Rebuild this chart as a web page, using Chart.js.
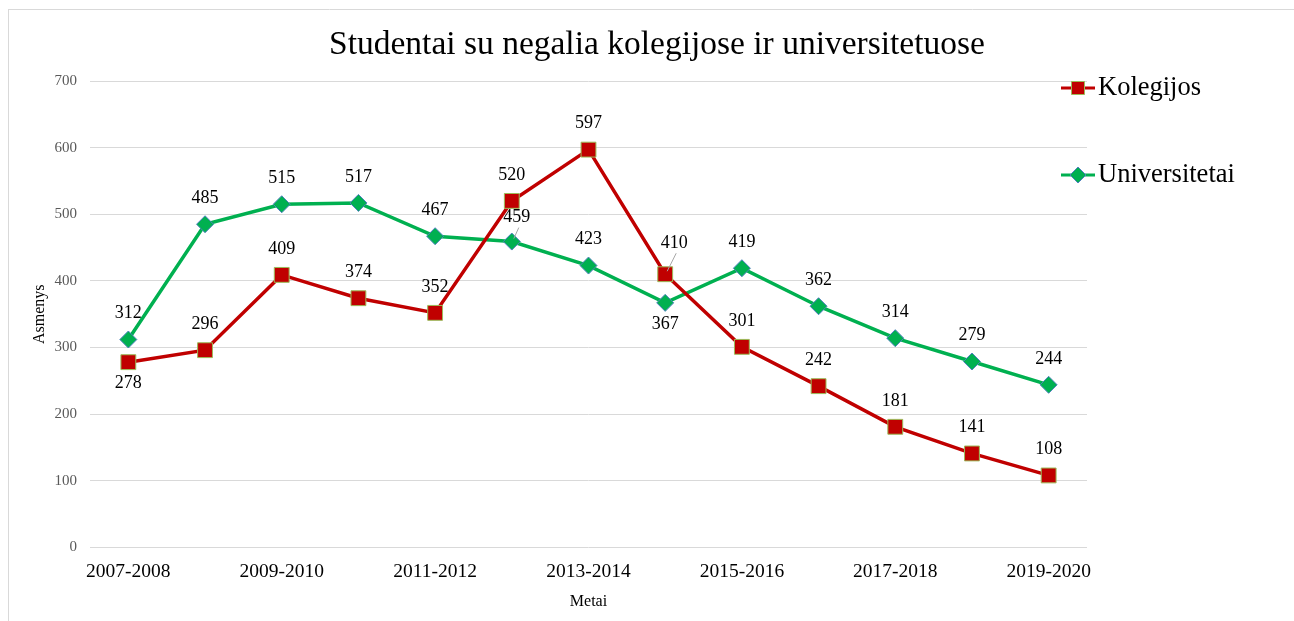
<!DOCTYPE html>
<html>
<head>
<meta charset="utf-8">
<script src="https://cdn.jsdelivr.net/npm/chart.js@4"></script>
<style>
html,body{margin:0;padding:0;background:#fff;}
canvas{display:block;}
</style>
</head>
<body>
<canvas id="c" width="1294" height="621"></canvas>
<script>
// ---- data ----
const categories = ["2007-2008","2008-2009","2009-2010","2010-2011","2011-2012","2012-2013","2013-2014","2014-2015","2015-2016","2016-2017","2017-2018","2018-2019","2019-2020"];
const kolegijos = [278,296,409,374,352,520,597,410,301,242,181,141,108];
const universitetai = [312,485,515,517,467,459,423,367,419,362,314,279,244];
const yTicks = [0,100,200,300,400,500,600,700];
const titleText = "Studentai su negalia kolegijose ir universitetuose";
const seriesNames = ["Kolegijos","Universitetai"];

// label placement (styles/positions kept separate from data)
const labelPlacement = [
  {0:'below', 7:{dx:9,dy:-31,leader:true}},
  {5:{dx:5,dy:-24,leader:true}, 7:'below'}
];

const SERIF = "'Liberation Serif','Times New Roman',serif";
const RED = '#C00000', GREEN = '#00B050';

const customPlugin = {
  id: 'custom',
  beforeDraw(chart){
    const ctx = chart.ctx;
    ctx.save();
    ctx.strokeStyle = '#d9d9d9';
    ctx.lineWidth = 1;
    ctx.beginPath();
    ctx.moveTo(8, 9.5); ctx.lineTo(1294, 9.5);
    ctx.moveTo(8.5, 9); ctx.lineTo(8.5, 621);
    ctx.stroke();
    ctx.restore();
  },
  afterDraw(chart){
    const ctx = chart.ctx;
    ctx.save();
    // title
    ctx.fillStyle = '#000';
    ctx.font = '33.5px ' + SERIF;
    ctx.textAlign = 'center';
    ctx.textBaseline = 'middle';
    ctx.fillText(titleText, 657, 45);

    // data labels
    ctx.font = '18px ' + SERIF;
    chart.data.datasets.forEach((ds, di) => {
      const meta = chart.getDatasetMeta(di);
      meta.data.forEach((pt, i) => {
        const pl = labelPlacement[di][i];
        let x = pt.x, y = pt.y - 26;
        if (pl === 'below') y = pt.y + 21;
        else if (pl && typeof pl === 'object') {
          x = pt.x + pl.dx; y = pt.y + pl.dy;
          if (pl.leader) {
            ctx.strokeStyle = '#a6a6a6';
            ctx.lineWidth = 1;
            ctx.beginPath();
            ctx.moveTo(pt.x + 2, pt.y - 3);
            ctx.lineTo(x + 2, y + 10);
            ctx.stroke();
          }
        }
        ctx.fillStyle = '#000';
        ctx.fillText(String(ds.data[i]), x, y);
      });
    });

    // legend
    const items = [
      {name: seriesNames[0], color: RED, style: 'rect', border: '#9BBB59', y: 88},
      {name: seriesNames[1], color: GREEN, style: 'rectRot', border: '#4F81BD', y: 175}
    ];
    items.forEach(it => {
      ctx.strokeStyle = it.color;
      ctx.lineWidth = 3;
      ctx.beginPath();
      ctx.moveTo(1061, it.y); ctx.lineTo(1095, it.y);
      ctx.stroke();
      ctx.fillStyle = it.color;
      ctx.strokeStyle = it.border;
      ctx.lineWidth = 1;
      ctx.beginPath();
      if (it.style === 'rect') {
        ctx.rect(1071.5, it.y - 6.5, 13, 13);
      } else {
        ctx.moveTo(1078, it.y - 8); ctx.lineTo(1086, it.y);
        ctx.lineTo(1078, it.y + 8); ctx.lineTo(1070, it.y); ctx.closePath();
      }
      ctx.fill(); ctx.stroke();
      ctx.fillStyle = '#000';
      ctx.font = '26.5px ' + SERIF;
      ctx.textAlign = 'left';
      ctx.textBaseline = 'middle';
      ctx.fillText(it.name, 1098, it.y);
    });
    ctx.restore();
  }
};

new Chart(document.getElementById('c'), {
  type: 'line',
  data: {
    labels: categories,
    datasets: [
      {
        label: seriesNames[0], data: kolegijos,
        borderColor: RED, borderWidth: 3.5,
        pointStyle: 'rect', pointRadius: 10.5, pointBackgroundColor: RED,
        pointBorderColor: '#9BBB59', pointBorderWidth: 1,
        tension: 0
      },
      {
        label: seriesNames[1], data: universitetai,
        borderColor: GREEN, borderWidth: 3.5,
        pointStyle: 'rectRot', pointRadius: 8.5, pointBackgroundColor: GREEN,
        pointBorderColor: '#4F81BD', pointBorderWidth: 1,
        tension: 0
      }
    ]
  },
  plugins: [customPlugin],
  options: {
    responsive: false,
    animation: false,
    layout: { padding: { top: 81, right: 207, bottom: 10, left: 0 } },
    plugins: {
      legend: { display: false },
      title: { display: false },
      tooltip: { enabled: false }
    },
    scales: {
      x: {
        type: 'category',
        offset: true,
        grid: { display: false },
        border: { display: false },
        ticks: {
          autoSkip: false, maxRotation: 0, minRotation: 0,
          padding: 5, color: '#000',
          font: { family: SERIF, size: 19.5 },
          callback: (v, i) => (i % 2 === 0 ? categories[i] : '')
        },
        title: {
          display: true, text: 'Metai', color: '#000',
          font: { family: SERIF, size: 16 },
          padding: { top: 3, bottom: 0 }
        }
      },
      y: {
        min: 0, max: 700,
        afterBuildTicks: (s) => { s.ticks = yTicks.map(v => ({ value: v })); },
        afterFit: (s) => { s.width = 90; },
        grid: { color: '#d9d9d9', lineWidth: 1, drawTicks: false },
        border: { display: false },
        ticks: {
          padding: 13, color: '#595959',
          font: { family: SERIF, size: 15 }
        },
        title: {
          display: true, text: 'Asmenys', color: '#000',
          font: { family: SERIF, size: 16 },
          padding: { top: 30, bottom: 0 }
        }
      }
    }
  }
});
</script>
</body>
</html>
